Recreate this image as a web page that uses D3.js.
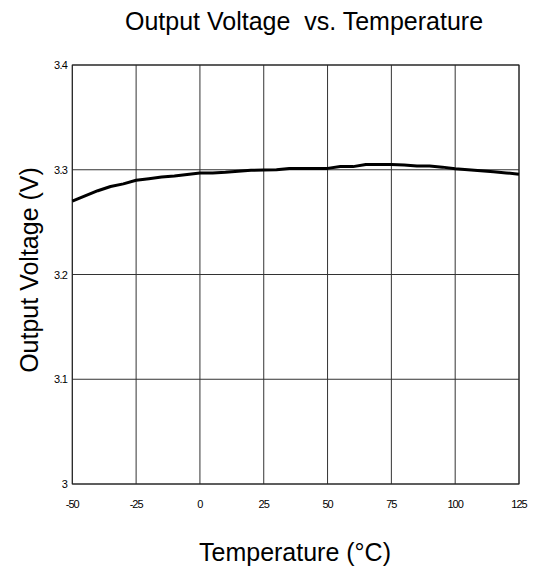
<!DOCTYPE html>
<html><head><meta charset="utf-8">
<script src="https://cdn.jsdelivr.net/npm/d3@7"></script>
<style>body{margin:0;background:#fff;}svg{display:block;font-family:"Liberation Sans",Arial,sans-serif;}</style>
</head><body><svg id="c" width="536" height="575"></svg>
<script>
const temps = [-50,-45,-40,-35,-30,-25,-20,-15,-10,-5,0,5,10,15,20,25,30,35,40,45,50,55,60,65,70,75,80,85,90,95,100,105,110,115,120,125];
const volts = [3.270,3.275,3.280,3.284,3.2865,3.290,3.2915,3.293,3.294,3.2955,3.297,3.297,3.2975,3.2985,3.2995,3.2998,3.300,3.3013,3.3013,3.3013,3.3013,3.303,3.303,3.305,3.305,3.305,3.3045,3.3035,3.3035,3.3025,3.301,3.300,3.299,3.298,3.297,3.2956];
const xTicks = [-50,-25,0,25,50,75,100,125];
const yTicks = [3,3.1,3.2,3.3,3.4];
const yTickLabels = ["3","3.1","3.2","3.3","3.4"];

const svg = d3.select("#c");
const L=72.3,R=519,T=65,B=484;
const x = d3.scaleLinear().domain([-50,125]).range([L,R]);
const y = d3.scaleLinear().domain([3,3.4]).range([B,T]);

const g = svg.append("g");
g.selectAll(".vg").data(xTicks).join("line")
  .attr("x1",d=>x(d)).attr("x2",d=>x(d)).attr("y1",T).attr("y2",B)
  .attr("stroke","#333").attr("stroke-width",1);
g.selectAll(".hg").data(yTicks).join("line")
  .attr("x1",L).attr("x2",R).attr("y1",d=>y(d)).attr("y2",d=>y(d))
  .attr("stroke","#333").attr("stroke-width",1);
g.append("rect").attr("x",L).attr("y",T).attr("width",R-L).attr("height",B-T)
  .attr("fill","none").attr("stroke","#222").attr("stroke-width",1);

g.selectAll(".xt").data(xTicks).join("text")
  .attr("x",d=>x(d)).attr("y",508).attr("text-anchor","middle")
  .attr("font-size",11).attr("letter-spacing",-1).text(d=>d);
g.selectAll(".yt").data(yTicks).join("text")
  .attr("x",67).attr("y",d=>y(d)+4).attr("text-anchor","end")
  .attr("font-size",11).attr("letter-spacing",-0.8).text((d,i)=>yTickLabels[i]);

const line = d3.line().x((d,i)=>x(temps[i])).y(d=>y(d));
g.append("path").datum(volts).attr("d",line).attr("fill","none")
  .attr("stroke","#000").attr("stroke-width",3).attr("stroke-linejoin","round");

svg.append("text").attr("x",304).attr("y",30).attr("text-anchor","middle")
  .attr("font-size",25).style("white-space","pre").text("Output Voltage  vs. Temperature");
svg.append("text").attr("x",295).attr("y",561).attr("text-anchor","middle")
  .attr("font-size",25).text("Temperature (°C)");
svg.append("text").attr("transform","translate(38,270) rotate(-90)").attr("text-anchor","middle")
  .attr("font-size",25).text("Output Voltage (V)");
</script></body></html>
